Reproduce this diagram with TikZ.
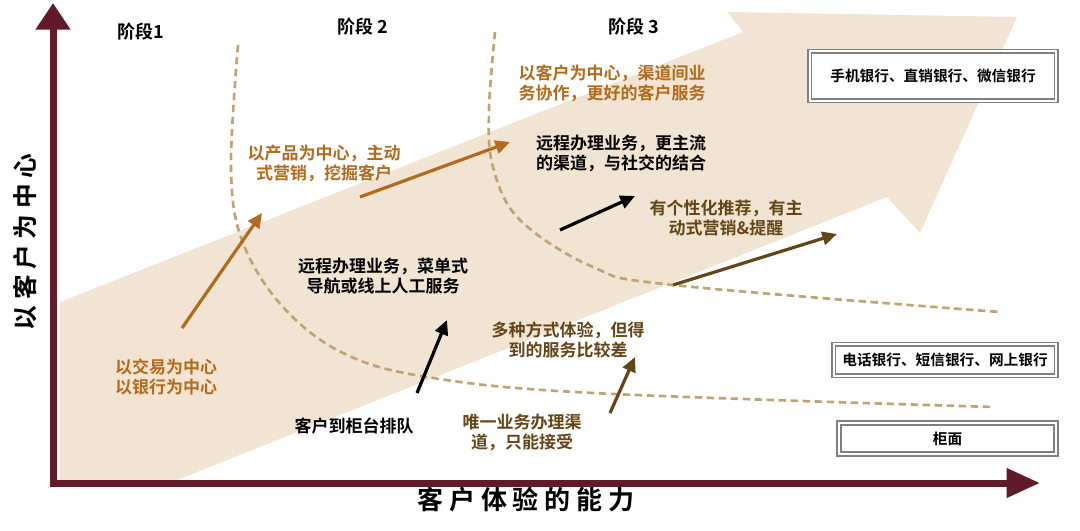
\documentclass[tikz,border=0pt]{standalone}
\usepackage{fontspec}
\setmainfont{Noto Sans CJK SC}[BoldFont={Noto Sans CJK SC Bold}]
\usepackage{xcolor}
\usetikzlibrary{positioning,arrows.meta}
\definecolor{axisclr}{RGB}{98,26,40}
\definecolor{beigeclr}{RGB}{241,228,211}
\definecolor{orgclr}{RGB}{178,106,28}
\definecolor{brnclr}{RGB}{100,70,22}
\definecolor{dashclr}{RGB}{190,164,112}
\definecolor{frameclr}{RGB}{128,128,128}
\tikzset{
  axisline/.style={draw=axisclr,line width=5.25pt,
                   {Triangle[length=20pt,width=25pt]}-{Triangle[length=25pt,width=21pt]}},
  divider/.style={draw=dashclr,line width=2pt,dash pattern=on 5.5pt off 3.5pt},
  note/.style={align=center,inner sep=0pt,
               font=\fontsize{12.75pt}{15pt}\selectfont\bfseries},
  stagelbl/.style={inner sep=0pt,font=\fontsize{13.5pt}{15pt}\selectfont\bfseries},
  chanbox/.style={draw=frameclr,line width=1.3pt,double=white,double distance=1.5pt,
                  fill=white,inner sep=0pt,
                  font=\fontsize{11pt}{13pt}\selectfont\bfseries},
  step arrow/.style={line width=2.4pt,-{Triangle[length=11pt,width=10pt]}},
}

\begin{document}
\begin{tikzpicture}[x=0.75pt,y=-0.75pt]
\useasboundingbox (0,0) rectangle (1080,531);

% big trend arrow
\fill[beigeclr] (60,302) -- (743,32) -- (727,12) -- (1017,17) -- (920,233)
  -- (887,197) -- (177,480) -- (60,480) -- cycle;

% stage dividers
\draw[divider] plot[smooth,tension=0.6] coordinates
  {(238,45) (231,170) (243,243) (283,307) (343,353) (427,377) (593,393) (993,407)};
\draw[divider] plot[smooth,tension=0.6] coordinates
  {(495,32) (489,110) (493,167) (520,220) (593,267) (673,285) (1000,312)};

% axes
\coordinate (ytop) at (53,3);
\coordinate (orig) at (53,483);
\coordinate (xend) at (1040,483);
\draw[axisline] (ytop) -- (orig) -- (xend);
\node[font=\fontsize{19.5pt}{22pt}\selectfont\bfseries] (xlbl) at (526,500)
  {客 户 体 验 的 能 力};
\node[rotate=90,font=\fontsize{18.5pt}{20pt}\selectfont\bfseries] (ylbl) at (25,242)
  {以 客 户 为 中 心};

% stages
\node[stagelbl] (s1) at (141,32) {阶段1};
\node[stagelbl] (s2) at (363,27) {阶段 2};
\node[stagelbl] (s3) at (634,27) {阶段 3};

% channels
\node[chanbox,minimum width=185pt,minimum height=37pt] (mob) at (933,76)
  {手机银行、直销银行、微信银行};
\node[chanbox,minimum width=167pt,minimum height=23.5pt] (tel) at (945,360)
  {电话银行、短信银行、网上银行};
\node[chanbox,minimum width=163pt,minimum height=23pt] (ctr) at (947.5,438.5)
  {柜面};

% notes
\node[note,text=orgclr] (trans) at (166,377) {以交易为中心\\以银行为中心};
\node[note,text=orgclr] (prod) at (324,163) {以产品为中心，主动\\式营销，挖掘客户};
\node[note,text=orgclr] (cust) at (612,83) {以客户为中心，渠道间业\\务协作，更好的客户服务};
\node[note] (queue) at (354,426) {客户到柜台排队};
\node[note] (menu) at (383,276) {远程办理业务，菜单式\\导航或线上人工服务};
\node[note] (social) at (621,153) {远程办理业务，更主流\\的渠道，与社交的结合};
\node[note,text=brnclr] (only) at (522,432) {唯一业务办理渠\\道，只能接受};
\node[note,text=brnclr] (multi) at (568,340) {多种方式体验，但得\\到的服务比较差};
\node[note,text=brnclr] (pers) at (726,218) {有个性化推荐，有主\\动式营销\&提醒};

% step arrows
\coordinate (a1s) at (182,328); \coordinate (a1e) at (262,213);
\coordinate (a2s) at (360,197); \coordinate (a2e) at (510,142);
\coordinate (a3s) at (417,393); \coordinate (a3e) at (447,320);
\coordinate (a4s) at (560,230); \coordinate (a4e) at (635,196);
\coordinate (a5s) at (610,413); \coordinate (a5e) at (635,357);
\coordinate (a6s) at (673,285); \coordinate (a6e) at (837,234);
\draw[step arrow,orgclr] (a1s) -- (a1e);
\draw[step arrow,orgclr] (a2s) -- (a2e);
\draw[step arrow,black] (a3s) -- (a3e);
\draw[step arrow,black] (a4s) -- (a4e);
\draw[step arrow,brnclr] (a5s) -- (a5e);
\draw[step arrow,brnclr] (a6s) -- (a6e);
\end{tikzpicture}
\end{document}
